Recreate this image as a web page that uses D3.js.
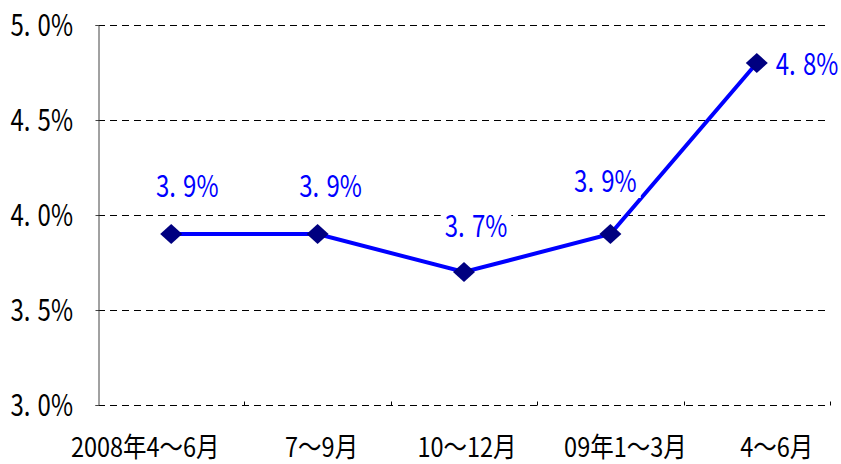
<!DOCTYPE html>
<html>
<head>
<meta charset="utf-8">
<script src="https://cdn.jsdelivr.net/npm/d3@7"></script>
<style>
  body { margin: 0; background: #fff; }
  text { font-family: "Noto Sans CJK JP", sans-serif; }
</style>
</head>
<body>
<div id="chart"></div>
<script>
const categories = ["2008年4～6月", "7～9月", "10～12月", "09年1～3月", "4～6月"];
const values = [3.9, 3.9, 3.7, 3.9, 4.8];
const yTicks = [3.0, 3.5, 4.0, 4.5, 5.0];

const width = 841, height = 464;
const margin = { top: 25, right: 11, bottom: 59, left: 98 };
const squeeze = 0.8; // narrow glyphs like the original font

const svg = d3.select("#chart").append("svg")
    .attr("width", width)
    .attr("height", height);

const x = d3.scaleBand()
    .domain(categories)
    .range([margin.left, width - margin.right]);

const y = d3.scaleLinear()
    .domain([3.0, 5.0])
    .range([height - margin.bottom, margin.top]);

const crisp = v => Math.round(v) + 0.5;

// dashed gridlines (incl. bottom)
svg.append("g")
    .selectAll("line")
    .data(yTicks)
    .join("line")
    .attr("x1", margin.left)
    .attr("x2", width - margin.right)
    .attr("y1", d => crisp(y(d)))
    .attr("y2", d => crisp(y(d)))
    .attr("stroke", "#000")
    .attr("stroke-width", 1)
    .attr("stroke-dasharray", "7,5");

// y axis
const yAxis = d3.axisLeft(y)
    .tickValues(yTicks)
    .tickSize(3)
    .tickFormat(() => "");
svg.append("g")
    .attr("transform", `translate(${margin.left + 0.5},0)`)
    .call(yAxis)
    .call(g => g.select(".domain").attr("stroke", "#444"))
    .call(g => g.selectAll(".tick").attr("transform", d => `translate(0,${crisp(y(d))})`))
    .call(g => g.selectAll(".tick line").attr("stroke", "#444"));

function pctText(sel, fmt) {
    sel.append("tspan").text(d => fmt(d).split(".")[0] + ".");
    sel.append("tspan").attr("dx", 9).text(d => fmt(d).split(".")[1] + "%");
}

// y labels
svg.append("g")
    .selectAll("text")
    .data(yTicks)
    .join("text")
    .attr("transform", d => `translate(73,${y(d) + 11}) scale(${squeeze},1)`)
    .attr("text-anchor", "end")
    .attr("font-size", 30)
    .attr("fill", "#000")
    .call(pctText, d => d.toFixed(1));

// x boundary ticks pointing up
const bounds = categories.map(c => x(c)).concat([x.range()[1]]);
svg.append("g")
    .selectAll("line")
    .data(bounds.slice(1))
    .join("line")
    .attr("x1", d => crisp(d))
    .attr("x2", d => crisp(d))
    .attr("y1", crisp(y(3.0)))
    .attr("y2", crisp(y(3.0)) - 4)
    .attr("stroke", "#000");

// x labels (offsets as placed in the original)
const xShift = [-26, 4, 3, 15, 20];
svg.append("g")
    .selectAll("text")
    .data(categories)
    .join("text")
    .attr("transform", (d, i) => `translate(${x(d) + x.bandwidth() / 2 + xShift[i]},457) scale(0.87,1)`)
    .attr("text-anchor", "middle")
    .attr("font-size", 27)
    .attr("fill", "#000")
    .text(d => d);

// line
const pts = categories.map((c, i) => ({ c, v: values[i] }));
const cx = d => x(d.c) + x.bandwidth() / 2;
svg.append("path")
    .datum(pts)
    .attr("fill", "none")
    .attr("stroke", "#0000ff")
    .attr("stroke-width", 4)
    .attr("d", d3.line().x(cx).y(d => y(d.v)));

// diamond markers
svg.append("g")
    .selectAll("path")
    .data(pts)
    .join("path")
    .attr("transform", d => `translate(${cx(d)},${y(d.v)})`)
    .attr("d", "M0,-10L11,0L0,10L-11,0Z")
    .attr("fill", "#000080");

// value labels (white box behind, as in the original)
const last = pts.length - 1;
const labG = svg.append("g")
    .selectAll("g")
    .data(pts)
    .join("g")
    .attr("transform", (d, i) => {
        if (i === last) return `translate(${cx(d) + 19},${y(d.v) + 12})`;
        const dx = [16, 13, 12, -5][i];
        const dy = [-37, -37, -35, -42][i];
        return `translate(${cx(d) + dx},${y(d.v) + dy})`;
    });
labG.append("rect").attr("fill", "#fff");
const labText = labG.append("text")
    .attr("transform", `scale(${squeeze},1)`)
    .attr("text-anchor", (d, i) => i === last ? "start" : "middle")
    .attr("font-size", 30)
    .attr("fill", "#0000ff")
    .call(pctText, d => d.v.toFixed(1));
labText.each(function () {
    const b = this.getBBox();
    d3.select(this.previousSibling)
        .attr("x", b.x * squeeze - 4)
        .attr("y", -24)
        .attr("width", b.width * squeeze + 8)
        .attr("height", 30);
});
</script>
</body>
</html>
